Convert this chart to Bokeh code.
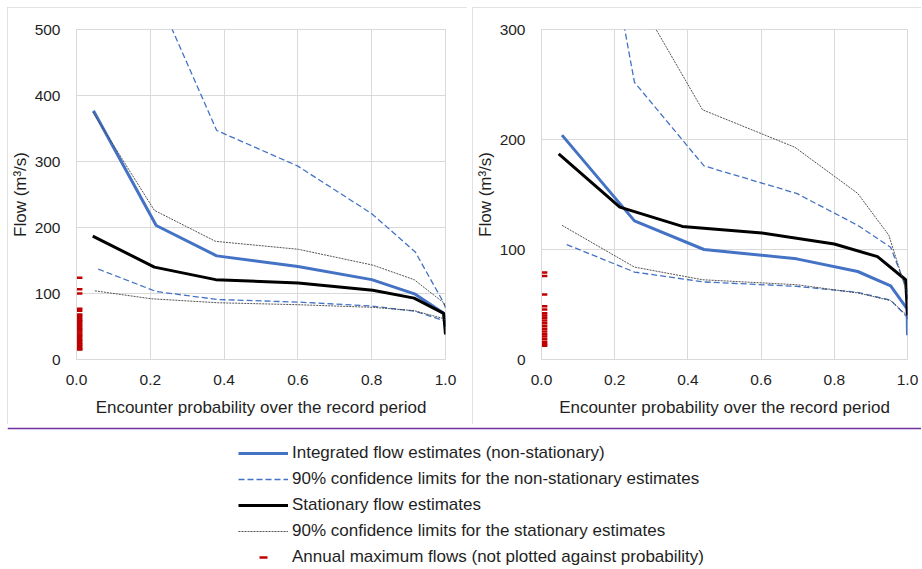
from bokeh.plotting import figure
from bokeh.models import Range1d, NumeralTickFormatter, Legend, LegendItem, Span
from bokeh.layouts import column, row
from bokeh.embed import file_html
from bokeh.resources import INLINE

FONT = "Liberation Sans"
TXT = "#1f1f1f"
GRID = "#d9d9d9"
BLUE = "#4472C4"
RED = "#C00000"
DOT = "#404040"

# ---------------- data ----------------
x_ticks = [0.0, 0.2, 0.4, 0.6, 0.8, 1.0]
y_ticks_left = [0, 100, 200, 300, 400, 500]
y_ticks_right = [0, 100, 200, 300]

# Left panel
xL_int = [0.046, 0.216, 0.38, 0.60, 0.80, 0.918, 0.995, 1.0]
int_L = [377, 203, 157, 141, 121, 99, 70, 50]
int_up_L = [950, 555, 347, 293, 221, 163, 86, 78]
xL_int_lo = [0.059, 0.216, 0.38, 0.60, 0.80, 0.918, 0.995, 1.0]
int_lo_L = [137, 103, 91, 87, 81, 73, 59, 55]
xL_st = [0.044, 0.211, 0.377, 0.601, 0.803, 0.915, 0.995, 1.0]
st_L = [187, 140, 121, 116, 105, 93, 70, 38]
st_up_L = [375, 226, 179, 167, 143, 121, 86, 80]
xL_st_lo = [0.05, 0.203, 0.382, 0.601, 0.803, 0.915, 0.995, 1.0]
st_lo_L = [104, 92, 86, 83, 79, 74, 62, 58]
amax_L = [124, 106.5, 100, 77, 74, 68, 66, 63, 60, 58, 55, 52, 49, 46, 44,
          41, 38, 36, 33, 30, 28, 25, 23, 21, 18, 16, 15]

# Right panel
xR_int = [0.056, 0.254, 0.444, 0.697, 0.864, 0.954, 0.999, 1.0]
int_R = [204, 126, 100, 91.5, 80, 67, 46, 22]
int_up_R = [610, 252, 176, 151, 122, 102, 63, 55]
xR_int_lo = [0.069, 0.254, 0.444, 0.697, 0.864, 0.954, 0.999, 1.0]
int_lo_R = [104.5, 79.5, 70.5, 66.5, 61, 54, 38.5, 35]
xR_st = [0.047, 0.214, 0.385, 0.602, 0.80, 0.918, 0.995, 1.0]
st_R = [187, 138.5, 121, 115, 105, 93.5, 72.5, 40]
xR_st_up = [0.056, 0.254, 0.44, 0.692, 0.864, 0.949, 0.999, 1.0]
st_up_R = [520, 334, 227, 193, 151, 113, 60, 55]
xR_st_lo = [0.056, 0.254, 0.44, 0.697, 0.864, 0.954, 0.999, 1.0]
st_lo_R = [122, 84, 72.5, 68, 60.5, 53.5, 40, 37]
amax_R = [79, 76, 59, 48.5, 45.5, 42, 40, 38, 35.5, 33, 30.5, 28, 25.5,
          23, 21, 18.5, 16, 14, 12.5]

MARK_X = 0.008  # annual maxima drawn at the left edge (not against probability)

labels = [
    "Integrated flow estimates (non-stationary)",
    "90% confidence limits for the non-stationary estimates",
    "Stationary flow estimates",
    "90% confidence limits for the stationary estimates",
    "Annual maximum flows (not plotted against probability)",
]

S_INT = dict(line_color=BLUE, line_width=3)
S_INT_CI = dict(line_color=BLUE, line_width=1.3, line_dash="6 3")
S_ST = dict(line_color="black", line_width=3)
S_ST_CI = dict(line_color=DOT, line_width=0.9, line_dash="2 1")


def panel(width, height, ymax, yticks, borders, d):
    bl, br, bt, bb = borders
    p = figure(width=width, height=height, output_backend="svg", toolbar_location=None,
               x_range=Range1d(0, 1), y_range=Range1d(0, ymax),
               min_border_left=bl, min_border_right=br, min_border_top=bt,
               min_border_bottom=bb)
    p.outline_line_color = GRID
    p.background_fill_color = "white"
    p.border_fill_color = "white"
    p.styles = {"outline": "1px solid #d9d9d9", "outline-offset": "-1px"}
    for ax in (p.xaxis[0], p.yaxis[0]):
        ax.axis_line_color = GRID
        ax.major_tick_line_color = None
        ax.minor_tick_line_color = None
        ax.major_tick_out = 0
        ax.major_tick_in = 0
        ax.minor_tick_out = 0
        ax.minor_tick_in = 0
        ax.major_label_text_font = FONT
        ax.major_label_text_font_size = "15.5px"
        ax.major_label_text_color = TXT
        ax.axis_label_text_font = FONT
        ax.axis_label_text_font_size = "17px"
        ax.axis_label_text_font_style = "normal"
        ax.axis_label_text_color = TXT
    p.xaxis.ticker = x_ticks
    p.xaxis.formatter = NumeralTickFormatter(format="0.0")
    p.xaxis.major_label_standoff = 15
    p.xaxis.axis_label = "Encounter probability over the record period"
    p.xaxis.axis_label_standoff = 10
    p.yaxis.ticker = yticks
    p.yaxis.major_label_standoff = 16
    p.yaxis.axis_label = "Flow (m³/s)"
    p.yaxis.axis_label_standoff = 2
    p.xgrid.ticker = x_ticks
    p.ygrid.ticker = yticks
    p.xgrid.grid_line_color = GRID
    p.ygrid.grid_line_color = GRID

    p.line(d["x_int"], d["int"], **S_INT)
    p.line(d["x_int_up"], d["int_up"], **S_INT_CI)
    p.line(d["x_int_lo"], d["int_lo"], **S_INT_CI)
    p.line(d["x_st"], d["st"], **S_ST)
    p.line(d["x_st_up"], d["st_up"], **S_ST_CI)
    p.line(d["x_st_lo"], d["st_lo"], **S_ST_CI)
    p.rect(x=[MARK_X] * len(d["amax"]), y=d["amax"], width=2 * MARK_X, height=2.5,
           height_units="screen", fill_color=RED, line_color=None)
    return p


dL = dict(x_int=xL_int, int=int_L, x_int_up=xL_int, int_up=int_up_L,
          x_int_lo=xL_int_lo, int_lo=int_lo_L, x_st=xL_st, st=st_L,
          x_st_up=xL_st, st_up=st_up_L, x_st_lo=xL_st_lo, st_lo=st_lo_L, amax=amax_L)
dR = dict(x_int=xR_int, int=int_R, x_int_up=xR_int, int_up=int_up_R,
          x_int_lo=xR_int_lo, int_lo=int_lo_R, x_st=xR_st, st=st_R,
          x_st_up=xR_st_up, st_up=st_up_R, x_st_lo=xR_st_lo, st_lo=st_lo_R, amax=amax_R)

pL = panel(460, 417, 500, y_ticks_left, (66, 22, 22, 62), dL)
pR = panel(449, 417, 300, y_ticks_right, (66, 14, 22, 65), dR)

# ---------------- legend figure ----------------
LH = 143
pG = figure(width=914, height=LH, output_backend="svg", toolbar_location=None,
            x_range=Range1d(0, 914), y_range=Range1d(0, LH),
            x_axis_type=None, y_axis_type=None,
            min_border_left=0, min_border_right=0, min_border_top=0, min_border_bottom=0)
pG.outline_line_color = None
pG.add_layout(Span(location=LH - 4, dimension="width", line_color="#7030a0", line_width=1.5))
# legend sample renderers (kept outside the visible range)
hx, hy = [-20, -10], [-20, -20]
g1 = pG.line(hx, hy, **S_INT)
g2 = pG.line(hx, hy, **S_INT_CI)
g3 = pG.line(hx, hy, **S_ST)
g4 = pG.line(hx, hy, **S_ST_CI)
g5 = pG.scatter(hx, hy, marker="dash", size=6, line_color=RED, line_width=2.5)
legend = Legend(items=[LegendItem(label=l, renderers=[r]) for l, r in
                       zip(labels, [g1, g2, g3, g4, g5])],
                location=(231, 0), glyph_width=50, glyph_height=20, label_height=20,
                spacing=6, label_standoff=4, padding=0, margin=0,
                border_line_color=None, background_fill_alpha=0,
                label_text_font=FONT, label_text_font_size="17px", label_text_color=TXT)
pG.add_layout(legend)

layout = column(row(pL, pR, spacing=5), pG, margin=(7, 0, 0, 7))
open("out.html", "w").write(file_html(layout, INLINE))
